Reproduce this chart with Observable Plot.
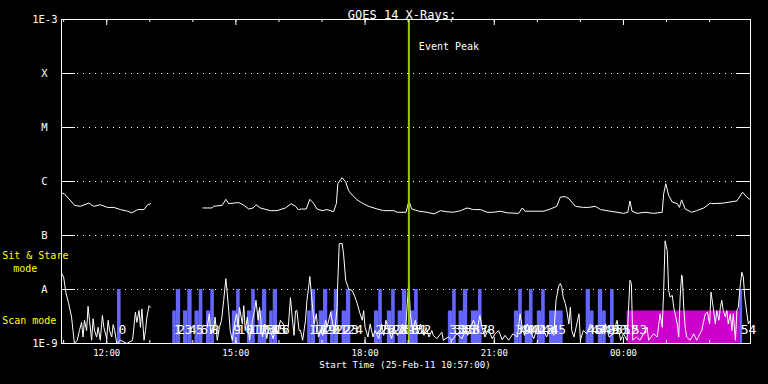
<!DOCTYPE html>
<html><head><meta charset="utf-8">
<script src="https://cdn.jsdelivr.net/npm/d3@7"></script>
<script src="https://cdn.jsdelivr.net/npm/@observablehq/plot@0.6"></script>
<style>html,body{margin:0;padding:0;background:#000;}</style>
</head><body><div id="chart"></div>
<script>
// ---- data (time = minutes after 25-Feb-11 10:57:00, flux as log10 W/m^2) ----
const startTime = "2011-02-25T10:57:00Z";
const spanMinutes = 960;
const eventPeakMinute = 484;

const longChannel = [[0,-6.21],[4,-6.23],[13,-6.36],[18,-6.44],[26,-6.46],[38,-6.40],[45,-6.46],[54,-6.43],[64,-6.48],[73,-6.48],[82,-6.52],[92,-6.55],[98,-6.58],[106,-6.52],[115,-6.52],[120,-6.43],[124,-6.41],[160,NaN],
[197,-6.49],[210,-6.49],[212,-6.46],[224,-6.44],[229,-6.33],[233,-6.41],[240,-6.40],[247,-6.39],[254,-6.44],[261,-6.51],[267,-6.49],[271,-6.43],[277,-6.49],[291,-6.54],[300,-6.54],[312,-6.49],[320,-6.41],[326,-6.46],[330,-6.52],[334,-6.51],[341,-6.51],[346,-6.33],[351,-6.40],[356,-6.51],[363,-6.54],[370,-6.52],[379,-6.56],[383,-6.41],[385,-6.04],[391,-5.93],[396,-6.01],[400,-6.17],[405,-6.25],[412,-6.34],[419,-6.40],[428,-6.46],[440,-6.51],[449,-6.54],[463,-6.54],[468,-6.57],[480,-6.57],[484,-6.36],[488,-6.51],[498,-6.55],[509,-6.57],[519,-6.60],[528,-6.54],[537,-6.56],[546,-6.57],[556,-6.54],[565,-6.49],[574,-6.52],[584,-6.52],[593,-6.57],[602,-6.57],[611,-6.55],[621,-6.58],[637,-6.59],[642,-6.49],[646,-6.55],[658,-6.55],[672,-6.55],[681,-6.51],[690,-6.46],[695,-6.29],[702,-6.28],[707,-6.32],[716,-6.46],[727,-6.48],[734,-6.48],[744,-6.46],[751,-6.52],[760,-6.54],[774,-6.57],[783,-6.59],[789,-6.57],[792,-6.36],[795,-6.55],[802,-6.59],[813,-6.57],[825,-6.59],[837,-6.57],[839,-6.23],[842,-6.04],[846,-6.26],[851,-6.38],[858,-6.41],[861,-6.48],[864,-6.34],[869,-6.51],[878,-6.57],[885,-6.54],[895,-6.49],[904,-6.40],[906,-6.41],[922,-6.40],[941,-6.36],[949,-6.20],[955,-6.29],[960,-6.34]];

const shortChannel = [[0,-7.70],[3,-7.77],[6,-8.05],[10,-8.26],[14,-8.51],[16,-8.76],[18,-9.0],[22,-8.94],[25,-8.76],[28,-8.61],[30,-8.88],[32,-8.57],[35,-8.76],[37,-8.31],[39,-8.57],[42,-8.94],[44,-8.54],[46,-8.76],[49,-8.88],[51,-8.70],[54,-8.94],[57,-8.48],[59,-8.70],[63,-8.91],[65,-8.57],[67,-8.76],[70,-8.88],[72,-8.65],[74,-8.76],[77,-9.0],[82,-8.94],[91,-9.0],[99,-8.94],[103,-8.42],[105,-8.61],[108,-8.39],[110,-8.70],[112,-8.36],[115,-8.94],[117,-8.76],[119,-8.51],[122,-8.30],[124,-8.33],[160,NaN],
[203,-8.70],[206,-8.45],[208,-8.82],[212,-8.76],[214,-8.51],[217,-8.94],[220,-8.70],[223,-8.57],[226,-8.20],[229,-7.80],[231,-8.08],[233,-8.39],[235,-8.76],[238,-8.94],[241,-8.64],[244,-8.45],[246,-8.70],[248,-8.33],[252,-8.64],[254,-8.30],[256,-8.76],[259,-8.51],[262,-8.94],[266,-8.57],[269,-8.39],[271,-8.20],[274,-8.57],[276,-8.33],[280,-8.88],[283,-8.64],[286,-8.91],[289,-8.70],[291,-8.76],[295,-8.91],[298,-8.70],[301,-8.82],[305,-8.57],[309,-8.64],[312,-8.82],[316,-8.70],[319,-8.15],[321,-8.45],[324,-8.85],[326,-8.40],[328,-8.39],[331,-8.76],[333,-8.76],[336,-8.94],[340,-8.57],[342,-8.20],[345,-7.89],[346,-7.76],[349,-8.20],[352,-8.64],[355,-8.45],[358,-8.88],[361,-8.76],[364,-8.85],[368,-8.57],[370,-8.70],[375,-8.42],[378,-8.64],[381,-8.76],[384,-8.33],[385,-7.83],[387,-7.15],[391,-7.15],[393,-7.34],[396,-7.83],[400,-7.99],[405,-8.02],[409,-8.14],[412,-8.26],[416,-8.45],[419,-8.57],[421,-8.39],[423,-8.70],[427,-8.88],[430,-8.64],[434,-8.88],[437,-8.76],[442,-8.91],[446,-8.64],[449,-8.85],[452,-8.57],[456,-8.76],[460,-8.91],[463,-8.70],[468,-8.85],[472,-8.76],[475,-8.64],[479,-8.82],[483,-8.02],[484,-7.88],[486,-8.45],[489,-8.76],[493,-8.57],[497,-8.82],[500,-8.64],[505,-8.85],[508,-8.70],[512,-8.88],[516,-8.76],[518,-8.85],[523,-8.91],[530,-8.79],[532,-8.94],[539,-8.88],[544,-8.94],[551,-8.82],[558,-8.91],[563,-8.76],[566,-8.85],[570,-8.70],[574,-8.57],[579,-8.76],[583,-8.48],[585,-8.64],[587,-8.76],[590,-8.88],[595,-8.73],[600,-8.91],[604,-8.82],[609,-8.76],[614,-8.93],[618,-8.85],[623,-8.94],[629,-8.82],[635,-8.88],[639,-8.45],[642,-8.70],[645,-8.85],[649,-8.64],[653,-8.76],[658,-8.91],[663,-8.70],[667,-8.82],[672,-8.76],[676,-8.88],[681,-8.73],[686,-8.85],[689,-8.20],[693,-7.93],[695,-7.89],[697,-7.96],[699,-8.14],[702,-8.26],[704,-8.39],[707,-8.64],[709,-8.33],[711,-8.76],[714,-8.88],[717,-8.70],[721,-8.45],[723,-8.94],[727,-8.76],[732,-8.82],[737,-8.64],[741,-8.76],[746,-8.82],[753,-8.76],[758,-8.64],[763,-8.88],[769,-8.82],[774,-8.57],[779,-8.94],[783,-8.82],[788,-8.94],[792,-7.83],[794,-7.89],[796,-8.94],[801,-8.88],[806,-8.94],[816,-8.70],[818,-8.94],[825,-8.82],[830,-8.88],[834,-8.45],[837,-8.70],[839,-8.02],[841,-7.10],[844,-7.28],[846,-8.02],[848,-8.14],[851,-8.11],[853,-8.33],[855,-8.45],[858,-8.64],[860,-8.88],[862,-8.14],[864,-7.73],[865,-7.77],[867,-8.33],[869,-8.70],[871,-8.88],[876,-8.94],[881,-8.82],[885,-8.94],[892,-8.76],[897,-8.45],[900,-8.42],[903,-8.64],[905,-8.05],[908,-8.33],[911,-8.64],[913,-8.39],[916,-8.57],[918,-8.33],[920,-8.20],[922,-8.39],[925,-8.51],[927,-8.39],[929,-8.64],[932,-8.45],[934,-8.76],[936,-8.45],[939,-8.94],[941,-8.39],[943,-8.33],[946,-7.89],[948,-7.68],[950,-7.77],[952,-8.14],[955,-8.45],[957,-8.64],[960,-8.57]];

// Sit & Stare mode spans (bars up to 1e-8) and scan spans (bars up to 4e-9)
const sitStareSpans = [[78,83],[160,166],[176,182],[192,197],[208,213],[244,249],[265,270],[280,286],[295,301],[348,354],[365,371],[380,386],[397,403],[442,447],[460,465],[475,481],[492,497],[545,550],[560,566],[581,586],[637,642],[652,657],[669,674],[731,737],[748,754],[765,770],[945,949]];
const scanSpans = [[155,160],[170,176],[186,192],[202,208],[238,244],[259,265],[274,280],[290,295],[343,348],[359,365],[375,380],[391,397],[436,442],[454,460],[469,475],[486,492],[539,545],[554,560],[571,581],[631,637],[646,652],[663,669],[680,699],[737,742],[754,759]];
const magentaSpans = [[788,945]];
const sitStareLevel = 1e-8, scanLevel = 4e-9, floorLevel = 1e-9;

const fileLabelMinutes = [78,155,160,170,176,186,192,202,208,238,244,259,265,274,280,290,295,343,348,359,365,375,380,391,397,436,442,454,460,469,475,486,492,539,545,554,560,571,581,631,637,646,652,663,669,680,731,737,748,754,765,770,781,793,945];
const fileLabelTexts = ["0","1","2","3","4","5","6","7","8","9","10","11","12","13","14","15","16","17","18","19","20","21","22","23","24","25","26","27","28","29","30","31","32","33","34","35","36","37","38","39","40","41","42","43","44","45","46","47","48","49","50","51","52","53","54"];

const yLevels = [1e-3,1e-4,1e-5,1e-6,1e-7,1e-8,1e-9];
const yLabels = ["1E-3","X","M","C","B","A","1E-9"];
const gridLevels = [1e-4,1e-5,1e-6,1e-7,1e-8];
const xTickHours = [12,15,18,21,24];
const xTickLabels = ["12:00","15:00","18:00","21:00","00:00"];

// ---- build ----
const T0 = new Date(startTime).getTime();
const at = m => new Date(T0 + m*60000);
const longData = longChannel.map(([t,l]) => ({date: at(t), flux: 10**l}));
const shortData = shortChannel.map(([t,l]) => ({date: at(t), flux: 10**l}));
const spanRows = (spans, top) => spans.map(([a,b]) => ({x1: at(a), x2: at(b), y1: floorLevel, y2: top}));
const fileLabels = fileLabelMinutes.map((t,i) => ({date: at(t), text: fileLabelTexts[i]}));
const yRows = yLevels.map((v,i) => ({v, label: yLabels[i]}));
const xTicks = xTickHours.map((h,i) => ({date: new Date(Date.UTC(2011,1,25,h)), label: xTickLabels[i]}));
const hourTicks = d3.utcHour.range(at(0), at(spanMinutes + 1));
const majorTicks = xTicks.map(d => d.date);

const W = 768, H = 384, ML = 61, MR = 18, MT = 19, MB = 41;
const PW = W - ML - MR, PH = H - MT - MB;
const font = "DejaVu Sans Mono";
const white = "#ffffff";

const chart = Plot.plot({
  width: W, height: H,
  marginLeft: ML, marginRight: MR, marginTop: MT, marginBottom: MB,
  style: {background: "#000", color: white, fontFamily: font, overflow: "visible"},
  x: {type: "utc", domain: [at(0), at(spanMinutes)], axis: null},
  y: {type: "log", domain: [1e-9, 1e-3], axis: null},
  marks: [
    // grid & level ticks
    Plot.ruleY(gridLevels, {stroke: white, strokeDasharray: "1,5", insetLeft: 16, insetRight: 14}),
    Plot.ruleY(gridLevels, {stroke: white, insetRight: PW - 14}),
    Plot.ruleY(gridLevels, {stroke: white, insetLeft: PW - 14}),
    // mode bars
    Plot.rect(spanRows(sitStareSpans, sitStareLevel), {x1: "x1", x2: "x2", y1: "y1", y2: "y2", fill: "#6464ff"}),
    Plot.rect(spanRows(scanSpans, scanLevel), {x1: "x1", x2: "x2", y1: "y1", y2: "y2", fill: "#6464ff"}),
    Plot.rect(spanRows(magentaSpans, scanLevel), {x1: "x1", x2: "x2", y1: "y1", y2: "y2", fill: "#cc00cc"}),
    // file numbers
    Plot.text(fileLabels, {x: "date", text: "text", frameAnchor: "bottom", dy: -10, dx: 1, textAnchor: "start", fill: white, fontSize: 13}),
    // curves
    Plot.line(shortData, {x: "date", y: "flux", stroke: white, strokeWidth: 1, clip: true}),
    Plot.line(longData, {x: "date", y: "flux", stroke: white, strokeWidth: 1, clip: true}),
    // event peak
    Plot.ruleX([at(eventPeakMinute)], {stroke: "#99cc00", strokeWidth: 2}),
    Plot.text([at(eventPeakMinute)], {x: d => d, text: () => "Event Peak", frameAnchor: "top", dy: 23.5, dx: 10, textAnchor: "start", fill: white, fontSize: 10}),
    // frame and time ticks
    Plot.frame({stroke: white}),
    Plot.ruleX(hourTicks, {stroke: white, insetBottom: PH - 3}),
    Plot.ruleX(majorTicks, {stroke: white, insetBottom: PH - 6}),
    Plot.ruleX(hourTicks, {stroke: white, insetTop: PH - 3}),
    Plot.ruleX(majorTicks, {stroke: white, insetTop: PH - 6}),
    Plot.text(xTicks, {x: "date", text: "label", frameAnchor: "bottom", dy: 12, fill: white, fontSize: 9}),
    // y labels
    Plot.text(yRows.filter(d => d.label.length === 1), {y: "v", text: "label", frameAnchor: "left", dx: -17, textAnchor: "middle", fill: white, fontSize: 10.5}),
    Plot.text(yRows.filter(d => d.label.length > 1), {y: "v", text: "label", frameAnchor: "left", dx: -4, textAnchor: "end", fill: white, fontSize: 10.5}),
    // titles
    Plot.text(["GOES 14 X-Rays:"], {text: d => d, frameAnchor: "top", dy: -9.5, dx: -4, fill: white, fontSize: 12}),
    Plot.text(["Start Time (25-Feb-11 10:57:00)"], {text: d => d, frameAnchor: "bottom", dy: 24, dx: -1, fill: white, fontSize: 9.2}),
    // mode legend
    Plot.text(["Sit & Stare"], {text: d => d, frameAnchor: "bottom-left", dx: -59.3, dy: -84.5, textAnchor: "start", fill: "#ffff00", fontSize: 10}),
    Plot.text(["mode"], {text: d => d, frameAnchor: "bottom-left", dx: -48.3, dy: -72, textAnchor: "start", fill: "#ffff00", fontSize: 10}),
    Plot.text(["Scan mode"], {text: d => d, frameAnchor: "bottom-left", dx: -59.3, dy: -19.5, textAnchor: "start", fill: "#ffff00", fontSize: 10})
  ]
});
document.getElementById("chart").appendChild(chart);
</script></body></html>
